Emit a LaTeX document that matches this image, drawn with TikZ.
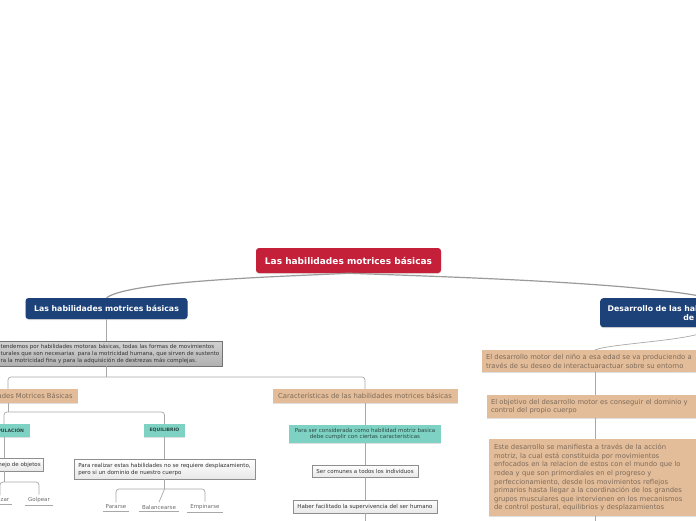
\documentclass[tikz,border=0pt]{standalone}
\usepackage{fontspec}
\setmainfont{DejaVu Sans}
\usetikzlibrary{
  positioning,
  shadows
}
\definecolor{mmred}{HTML}{C5203A}
\definecolor{mmblue}{HTML}{1C4279}
\definecolor{mmpeach}{HTML}{E3BD99}
\definecolor{mmpeachtext}{HTML}{7E6B5B}
\definecolor{mmteal}{HTML}{7ED2C3}
\definecolor{mmtealtext}{HTML}{2B4843}
\definecolor{mmline}{HTML}{A8A8A8}
\definecolor{mmtrunk}{HTML}{9A9A9A}
\definecolor{mmdark}{HTML}{333333}
\definecolor{mmleaf}{HTML}{6A6A6A}
\definecolor{mmborder}{HTML}{8E8E8E}

\begin{document}
\begin{tikzpicture}[x=1pt, y=-1pt,
      mmshadow/.style={drop shadow={shadow xshift=0pt, shadow yshift=-1pt, opacity=0.25}},
      rootbox/.style={
        rectangle, rounded corners=3pt, fill=mmred, mmshadow,
        font=\bfseries\fontsize{9}{11}\selectfont, text=white,
        minimum width=185pt, minimum height=25pt, inner sep=0pt
      },
      mainbox/.style={
        rectangle, rounded corners=3pt, fill=mmblue, mmshadow,
        font=\bfseries\fontsize{7.8}{9.5}\selectfont, text=white, align=center
      },
      peachbox/.style={
        rectangle, fill=mmpeach, mmshadow, inner sep=4pt,
        font={\fontsize{6.8}{8.5}\selectfont}, text=mmpeachtext
      },
      tealbox/.style={
        rectangle, fill=mmteal, mmshadow, inner sep=2pt, minimum height=13pt,
        font={\fontsize{5.5}{6.8}\selectfont}, text=mmtealtext, align=center
      },
      defnbox/.style={
        rectangle, top color=gray!35, bottom color=gray!62, draw=gray!110,
        line width=0.6pt, mmshadow, inner xsep=3pt, inner ysep=2pt,
        font={\fontsize{5.5}{7}\selectfont}, text=mmdark, align=left
      },
      lightbox/.style={
        rectangle, top color=white, bottom color=gray!18, draw=mmborder,
        line width=0.6pt, mmshadow, inner sep=3pt,
        font={\fontsize{5.5}{7}\selectfont}, text=mmdark
      },
      leaf/.style={
        font={\fontsize{5.5}{7}\selectfont}, text=mmleaf, inner xsep=3pt, inner ysep=2.5pt,
        append after command={(\tikzlastnode.south west) edge[draw=mmline, line width=0.7pt] (\tikzlastnode.south east)}
      },
      link/.style={draw=mmline, line width=0.7pt, rounded corners=3pt},
      trunk/.style={draw=mmtrunk, line width=1.2pt}
    ]
      \useasboundingbox (0,0) rectangle (696,520);
      \clip (0,0) rectangle (696,520);

      % Root and main branches
      \node[rootbox] (root) at (348.5,260.5) {Las habilidades motrices básicas};
      \node[mainbox, minimum width=162pt, minimum height=21pt] (lmain) at (106.5,308.5) {Las habilidades motrices básicas};
      \node[mainbox, anchor=north west, text width=212pt, minimum height=29pt] (rmain) at (600,298)
        {Desarrollo de las habilidades motrices básicas\\de los niños};

      % Left branch
      \node[defnbox, minimum height=25pt] (defn) at (106.5,353.5)
        {Entendemos por habilidades motoras básicas, todas las formas de movimientos\\
         naturales que son necesarias\ \ para la motricidad humana, que sirven de sustento\\
         para la motricidad fina y para la adquisición de destrezas más complejas.};
      \node[peachbox, minimum width=140pt, minimum height=14pt, inner sep=2pt] (tipos) at (8,396) {Tipos de Habilidades Motrices Básicas};
      \node[peachbox, minimum width=185pt, minimum height=14pt, inner sep=2pt] (caract) at (365,396) {Características de las habilidades motrices básicas};

      \node[tealbox, minimum width=52pt, font=\bfseries\fontsize{4.6}{6}\selectfont] (manip) at (4,430.5) {MANIPULACIÓN};
      \node[tealbox, minimum width=41pt, font=\bfseries\fontsize{4.6}{6}\selectfont] (equil) at (164.5,430.5) {EQUILIBRIO};
      \node[lightbox, anchor=east, minimum height=13pt] (manejo) at (44,464.5) {Manejo de objetos};
      \node[leaf] (lanzar) at (0,500) {Lanzar};
      \node[leaf] (golpear) at (39,500) {Golpear};
      \node[lightbox, minimum width=181pt, minimum height=20pt, align=left] (parar) at (164.5,469)
        {Para realizar estas habilidades no se requiere desplazamiento,\\pero si un dominio de nuestro cuerpo};
      \node[leaf] (pararse) at (116,507) {Pararse};
      \node[leaf] (balanc) at (159,507) {Balancearse};
      \node[leaf] (empin) at (205,507) {Empinarse};

      \node[tealbox, minimum width=152pt, minimum height=18pt] (cond) at (365,434)
        {Para ser considerada como habilidad motriz basica\\debe cumplir con ciertas caracteristicas};
      \node[lightbox, minimum width=106pt, minimum height=12pt] (comunes) at (365,471) {Ser comunes a todos los individuos};
      \node[lightbox, minimum width=144pt, minimum height=13pt] (haber) at (365,506.5) {Haber facilitado la supervivencia del ser humano};

      % Right branch
      \node[peachbox, anchor=north, text width=218pt, align=left, minimum height=22pt] (dev1) at (595,350)
        {El desarrollo motor del niño a esa edad se va produciendo a\\través de su deseo de interactuaractuar sobre su entorno};
      \node[peachbox, anchor=north, text width=208pt, align=left, minimum height=23pt] (dev2) at (595,395)
        {El objetivo del desarrollo motor es conseguir el dominio y\\control del propio cuerpo};
      \node[peachbox, anchor=north, text width=202pt, align=left, minimum height=74pt, inner sep=5pt,
            font={\fontsize{6.8}{8.6}\selectfont}] (dev3) at (595,439)
        {Este desarrollo se manifiesta a través de la acción\\
         motriz, la cual está constituida por movimientos\\
         enfocados en la relacion de estos con el mundo que lo\\
         rodea y que son primordiales en el progreso y\\
         perfeccionamiento, desde los movimientos reflejos\\
         primarios hasta llegar a la coordinación de los grandes\\
         grupos musculares que intervienen en los mecanismos\\
         de control postural, equilibrios y desplazamientos};

      % Bus points and loose ends
      \coordinate (bus1) at (106.5,377);
      \coordinate (bus2) at (8,412);
      \coordinate (bus3) at (4,482);
      \coordinate (bus4) at (164.5,489);
      \coordinate (cont1) at (365,530);
      \coordinate (cont2) at (595,530);

      % Connectors
      \draw[trunk] (root.south) .. controls (300,276) and (130,280) .. (lmain.north);
      \draw[trunk] (root.south) .. controls (420,276) and (640,282) .. (rmain.north);
      \draw[link] (rmain.south) .. controls (710,340) and (610,343) .. (dev1.north);

      \draw[link] (lmain) -- (defn);
      \draw[link] (defn) -- (bus1);
      \draw[link] (bus1) -| (tipos.north);
      \draw[link] (bus1) -| (caract.north);
      \draw[link] (tipos) -- (bus2);
      \draw[link] (bus2) -| (manip.north);
      \draw[link] (bus2) -| (equil.north);
      \draw[link] (manip.south) -- (manip.south |- manejo.north);
      \draw[link] (manip.south |- manejo.south) -- (bus3);
      \draw[link] (bus3) -| (lanzar.north);
      \draw[link] (bus3) -| (golpear.north);
      \draw[link] (equil) -- (parar);
      \draw[link] (parar) -- (bus4);
      \draw[link] (bus4) -| (pararse.north);
      \draw[link] (bus4) -- (balanc.north);
      \draw[link] (bus4) -| (empin.north);

      \draw[link] (caract) -- (cond);
      \draw[link] (cond) -- (comunes);
      \draw[link] (comunes) -- (haber);
      \draw[link] (haber) -- (cont1);

      \draw[link] (dev1) -- (dev2);
      \draw[link] (dev2) -- (dev3);
      \draw[link] (dev3) -- (cont2);
    \end{tikzpicture}
\end{document}
